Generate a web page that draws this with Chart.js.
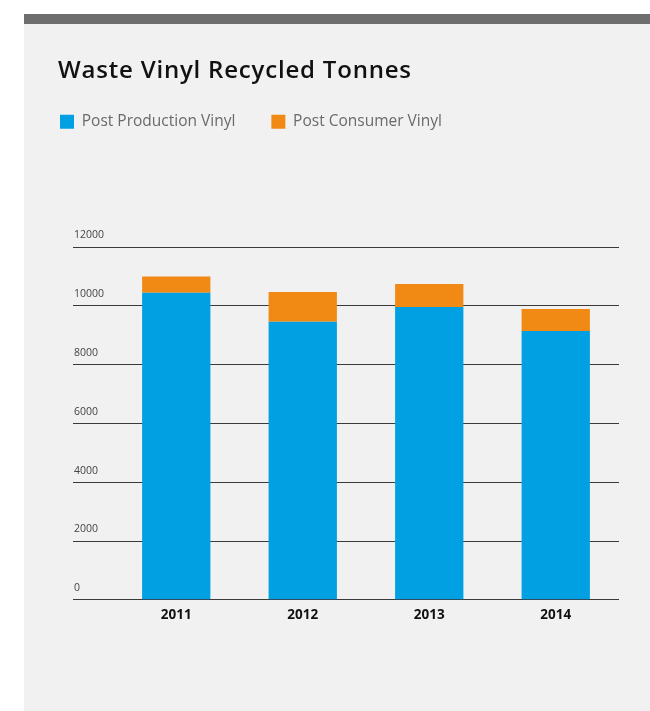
<!DOCTYPE html>
<html>
<head>
<meta charset="utf-8">
<script src="https://cdn.jsdelivr.net/npm/chart.js@4"></script>
<style>
    html, body { margin: 0; padding: 0; background: #ffffff; }
    body { width: 650px; height: 711px; position: relative; overflow: hidden; }
    .panel {
        position: absolute; left: 24px; top: 14px; width: 626px; height: 687px;
        background: #f1f1f1; border-top: 10px solid #6e6e6e;
    }
    .titulo {
        position: absolute; left: 34px; top: 28px; margin: 0;
        font-family: "Open Sans", sans-serif; font-size: 24px; font-weight: 600;
        color: #111111; letter-spacing: 0.8px; white-space: nowrap;
    }
    .chart-box { position: absolute; left: 0; top: 0; width: 626px; height: 687px; }
</style>
</head>
<body>
<div class="panel">
    <div class="chart-box"><canvas id="chartVinil"></canvas></div>
    <h1 class="titulo">Waste Vinyl Recycled Tonnes</h1>
</div>
<script>
// Dados (toneladas)
const anos = ['2011', '2012', '2013', '2014'];
const posProducao = [10440, 9460, 9960, 9140];
const posConsumo = [555, 1010, 785, 750];
const ticksY = [0, 2000, 4000, 6000, 8000, 10000, 12000];

// Espaço extra abaixo da legenda antes da área do gráfico
const legendaAltura = {
    id: 'legendaAltura',
    beforeUpdate(chart) {
        const legend = chart.legend;
        if (!legend || legend._ajustado) return;
        const fitOriginal = legend.fit.bind(legend);
        legend.fit = function () {
            fitOriginal();
            this.height = 169;
        };
        legend._ajustado = true;
    }
};

const ctx = document.getElementById('chartVinil').getContext('2d');
new Chart(ctx, {
    type: 'bar',
    data: {
        labels: anos,
        datasets: [
            {
                label: 'Post Production Vinyl',
                data: posProducao,
                backgroundColor: '#00a0e3',
                borderWidth: 0
            },
            {
                label: 'Post Consumer Vinyl',
                data: posConsumo,
                backgroundColor: '#f18a14',
                borderWidth: 0
            }
        ]
    },
    options: {
        responsive: true,
        maintainAspectRatio: false,
        animation: false,
        datasets: { bar: { categoryPercentage: 1, barPercentage: 0.54 } },
        layout: { padding: { left: 0, top: 54, right: 31, bottom: 81 } },
        plugins: {
            title: { display: false },
            tooltip: { enabled: false },
            legend: {
                position: 'top',
                align: 'start',
                labels: {
                    boxWidth: 14,
                    boxHeight: 14,
                    padding: 36,
                    color: '#6a6a6a',
                    font: { family: 'Open Sans', size: 15.5 }
                }
            }
        },
        scales: {
            x: {
                stacked: true,
                grid: { display: false, drawTicks: false },
                border: { display: false },
                ticks: {
                    color: '#111111',
                    padding: 7,
                    font: { family: 'Open Sans', size: 13.5, weight: 'bold' }
                }
            },
            y: {
                stacked: true,
                min: 0,
                max: 12000,
                afterFit(scale) { scale.width = 89; },
                afterBuildTicks(scale) { scale.ticks = ticksY.map(v => ({ value: v })); },
                grid: {
                    color: '#3a3a3a',
                    lineWidth: 1,
                    drawTicks: true,
                    tickLength: 40
                },
                border: { display: false },
                ticks: {
                    mirror: true,
                    padding: -39,
                    labelOffset: -11.5,
                    color: '#444444',
                    font: { family: 'Open Sans', size: 10.5 },
                    callback: v => String(v)
                }
            }
        }
    },
    plugins: [legendaAltura]
});
</script>
</body>
</html>
